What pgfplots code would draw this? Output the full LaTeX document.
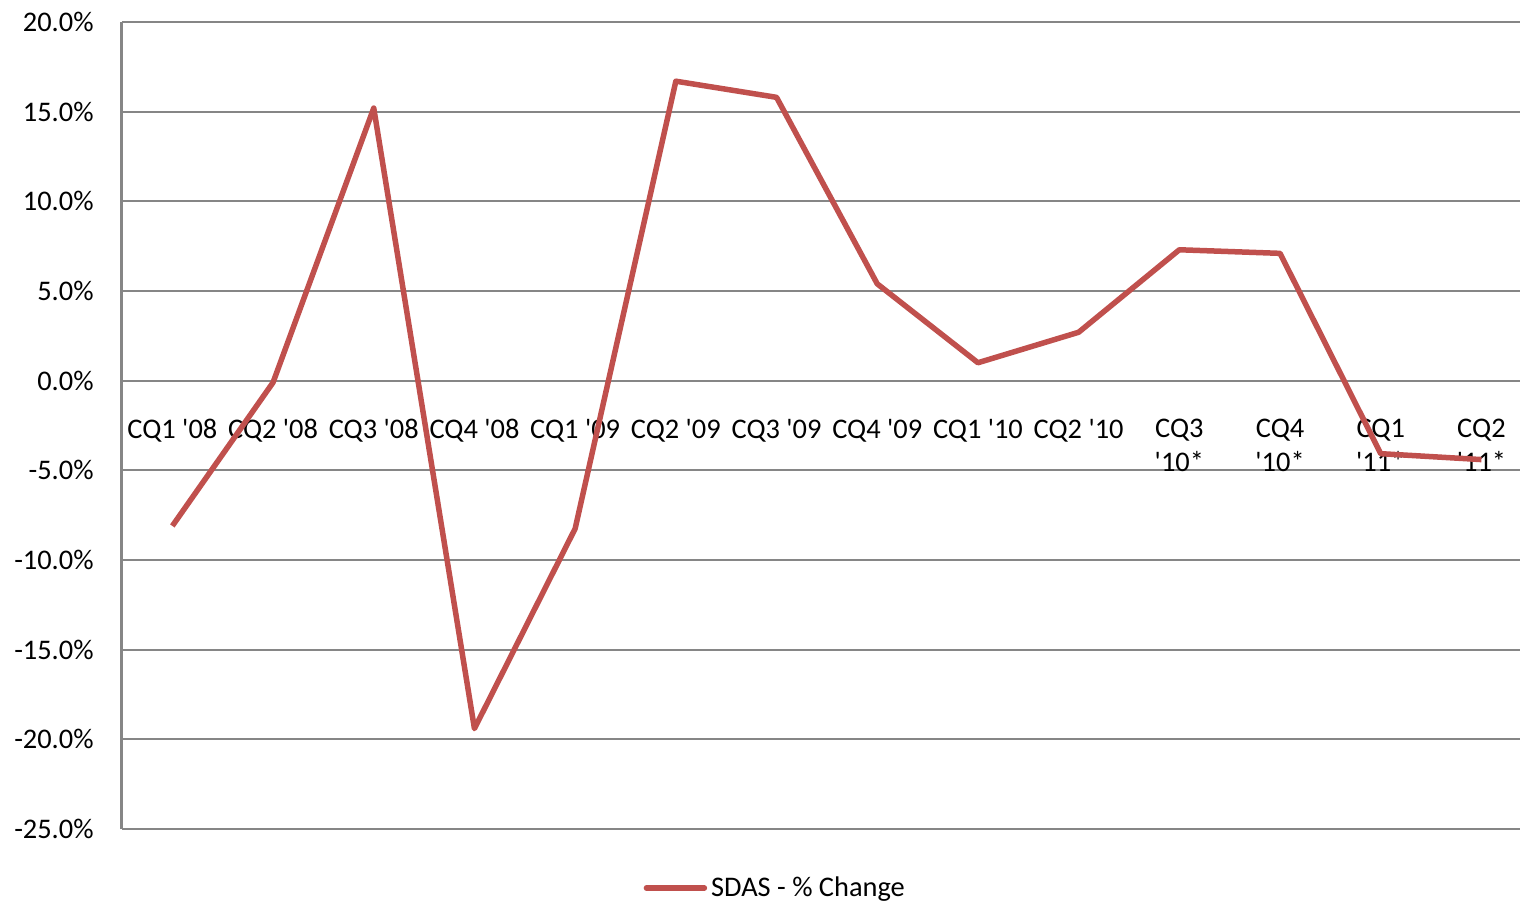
\documentclass[border=0pt]{standalone}
\usepackage{pgfplots}
\pgfplotsset{compat=1.18}
\usepackage{fontspec}
\setmainfont{Carlito}
\definecolor{exred}{RGB}{192,80,77}
\definecolor{gridgray}{RGB}{134,134,134}
\newcommand{\q}{\textquotesingle}
\begin{document}
\begin{tikzpicture}
\begin{axis}[
  scale only axis,
  width=699pt, height=403.5pt,
  xmin=-0.5, xmax=13.383,
  ymin=-25, ymax=20,
  axis x line=middle,
  axis y line=left,
  axis line style={-, gridgray, line width=1pt},
  y axis line style={line width=1.5pt},
  ytick={-25,-20,-15,-10,-5,0,5,10,15,20},
  yticklabels={-25.0\%,-20.0\%,-15.0\%,-10.0\%,-5.0\%,0.0\%,5.0\%,10.0\%,15.0\%,20.0\%},
  xtick={0,...,13},
  xticklabels={CQ1 \q08,CQ2 \q08,CQ3 \q08,CQ4 \q08,CQ1 \q09,CQ2 \q09,CQ3 \q09,CQ4 \q09,CQ1 \q10,CQ2 \q10,CQ3\\\q10*,CQ4\\\q10*,CQ1\\\q11*,CQ2\\\q11*},
  major tick length=0pt,
  ymajorgrids,
  grid style={gridgray, line width=1pt},
  tick label style={font=\fontsize{14.2}{17}\selectfont},
  yticklabel style={anchor=east, inner sep=0pt, xshift=-14pt},
  xticklabel style={anchor=north, inner sep=0pt, yshift=-19pt, align=center},
  legend style={at={(0.468,-0.0731)}, anchor=center, draw=none, fill=none,
    font=\fontsize{14.2}{17}\selectfont, inner sep=0pt},
  legend image code/.code={\draw[#1, line cap=round] (0pt,0pt) -- (29pt,0pt);},
  clip=false,
]
\addplot[exred, line width=2.75pt, line join=round] coordinates {
  (0,-8.1) (1,-0.1) (2,15.2) (3,-19.4) (4,-8.25) (5,16.7) (6,15.8)
  (7,5.4) (8,1.0) (9,2.7) (10,7.3) (11,7.1) (12,-4.07) (13,-4.4)
};
\addlegendentry{SDAS - \% Change}
\end{axis}
\pgfresetboundingbox
\path (-61pt,-36.5pt) rectangle (699pt,414.5pt);
\end{tikzpicture}
\end{document}
